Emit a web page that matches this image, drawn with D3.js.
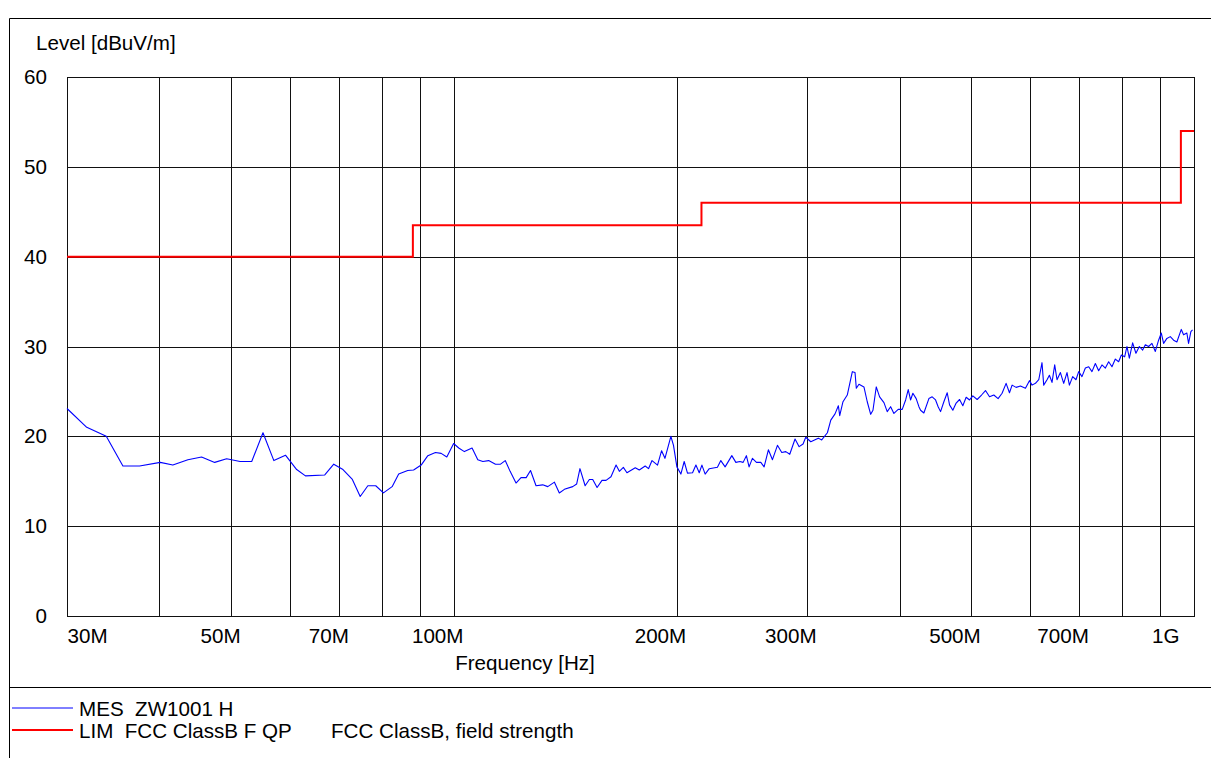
<!DOCTYPE html>
<html>
<head>
<meta charset="utf-8">
<script src="https://cdn.jsdelivr.net/npm/d3@7"></script>
<style>
  body { margin: 0; background: #fff; }
  svg { display: block; }
  text { white-space: pre; }
</style>
</head>
<body>
<div id="chart-area"></div>
<script>
// measured trace, frequency in MHz
var mesFreq = [
  30.0, 31.9, 33.9, 35.7, 37.6, 40.1, 41.7, 43.7, 45.6, 47.5, 49.3, 51.4, 53.3, 55.2, 57.1, 59.2, 61.3, 63.0, 66.9, 68.8, 70.8, 72.9,
  74.7, 76.5, 78.4, 80.3, 82.5, 84.2, 86.6, 88.2, 90.3, 92.2, 94.4, 96.1, 97.8, 99.9, 101.5, 103.3, 105.8, 107.7, 109.4, 111.4, 113.8, 115.6,
  117.3, 119.1, 121.3, 123.2, 125.2, 126.9, 129.1, 131.8, 133.9, 136.7, 138.8, 141.0, 144.7, 146.5, 148.0, 150.4, 152.4, 154.0, 156.1, 158.5,
  160.5, 163.0, 165.6, 167.3, 169.4, 171.3, 175.8, 178.0,
  181.3, 183.2, 185.2, 188.4, 190.8, 192.8, 196.4, 198.0, 200.1, 202.6, 204.7, 206.8, 210.1, 212.3, 214.5, 216.3, 218.5, 221.3, 227.0, 229.4,
  232.5, 237.4, 240.4, 243.4, 245.9, 248.4, 250.5, 253.1, 256.3, 259.8, 262.5, 266.0, 269.4, 273.6, 277.3, 280.8, 284.3, 289.0, 292.7, 296.3,
  298.8, 303.5, 310.7, 314.0, 319.6, 323.0, 327.3, 330.7, 332.1, 335.5, 340.0, 345.4, 348.3, 349.7, 352.6, 358.1, 361.8, 365.7, 368.3, 372.1,
  376.0, 381.1, 385.0, 389.1, 393.1, 398.4, 403.4, 407.7, 411.0, 414.0, 417.0, 421.3, 424.9,
  427.1, 431.5, 438.3, 442.8, 447.5, 451.1, 454.5, 459.2, 464.0, 467.4, 472.2, 477.1, 482.2, 487.1, 492.2, 497.4, 502.5, 509.3, 516.3, 522.7,
  529.3, 536.4, 543.6, 550.4, 557.3, 563.2, 567.8, 574.9, 582.8, 591.9, 599.3, 604.2, 610.6, 616.9, 623.2, 626.5, 633.0, 637.7, 642.9, 648.3,
  653.0, 659.9, 666.7, 673.6, 678.6, 685.6, 692.7, 698.5, 705.7, 713.2, 720.6, 728.0, 735.7, 743.3, 751.0, 759.0, 766.8, 774.7, 782.9, 791.0,
  797.7, 805.9, 811.7, 817.8, 826.2, 834.7, 843.6, 852.3, 859.5, 868.3, 877.3, 886.6, 895.7, 903.3, 909.8, 919.1, 928.9, 938.5, 948.1, 961.2,
  968.1, 978.0, 983.2, 990.3, 995.5
];
// measured level, dBuV/m
var mesLevel = [
  23.1, 21.0, 20.0, 16.7, 16.7, 17.1, 16.8, 17.4, 17.7, 17.1, 17.5, 17.2, 17.2, 20.4, 17.3, 17.9, 16.3, 15.6, 15.7, 16.9, 16.3, 15.2,
  13.3, 14.5, 14.5, 13.7, 14.4, 15.8, 16.2, 16.25, 16.8, 17.85, 18.2, 18.1, 17.7, 19.2, 18.7, 18.3, 18.7, 17.4, 17.2, 17.3, 16.9, 16.9,
  17.3, 16.1, 14.8, 15.4, 15.4, 16.2, 14.5, 14.6, 14.4, 14.9, 13.7, 14.1, 14.4, 14.7, 16.4, 14.5, 15.2, 15.2, 14.3, 15.1,
  15.1, 15.5, 16.8, 16.1, 16.55, 15.95, 16.5, 16.25,
  16.7, 16.4, 17.3, 16.8, 18.4, 17.55, 20.0, 19.0, 16.6, 15.8, 17.2, 15.9, 15.95, 16.8, 15.95, 16.8, 15.8, 16.4, 16.55, 17.3,
  16.6, 17.85, 17.1, 17.2, 17.1, 17.85, 16.6, 17.55, 17.1, 17.1, 16.6, 18.5, 17.4, 19.0, 18.2, 18.3, 18.0, 19.7, 18.85, 19.15,
  19.9, 19.4, 19.8, 19.6, 20.4, 21.8, 22.5, 23.4, 22.3, 23.85, 24.6, 27.2, 27.1, 25.35, 25.8, 25.5, 23.85, 22.45, 22.9, 25.5,
  24.4, 23.75, 22.75, 23.3, 22.55, 23.0, 23.0, 24.05, 25.2, 24.05, 24.8, 24.2, 23.3,
  22.9, 22.6, 24.2, 24.4, 24.05, 23.3, 22.75, 23.85, 24.85, 23.5, 22.9, 23.7, 24.1, 23.4, 24.35, 24.05, 24.5, 24.1, 24.6, 25.1,
  24.4, 24.6, 24.2, 24.8, 25.9, 24.85, 25.7, 25.45, 25.6, 25.35, 26.2, 25.7, 25.9, 26.3, 28.2, 25.7, 26.3, 26.8, 26.0, 27.95,
  26.3, 27.1, 25.9, 27.1, 25.7, 26.65, 26.3, 27.2, 26.65, 27.6, 27.75, 27.2, 28.1, 27.3, 27.95, 27.6, 28.3, 27.75, 28.6, 28.3,
  29.05, 28.85, 30.0, 28.7, 30.4, 29.25, 30.0, 29.6, 30.2, 30.0, 30.35, 29.45, 30.7, 31.5, 30.35, 30.9, 31.1, 30.7, 30.5, 31.9,
  31.3, 31.5, 30.35, 31.65, 31.85
];

// FCC class B limit, step values start at each frequency
var limFreq = [30, 88, 216, 960, 1000];
var limLevel = [40, 43.5, 46, 54, 54];

var levelTicks = [0, 10, 20, 30, 40, 50, 60];
var freqGrid = [40, 50, 60, 70, 80, 90, 100, 200, 300, 400, 500, 600, 700, 800, 900];
var freqTicks = [30, 50, 70, 100, 200, 300, 500, 700, 1000];
var freqTickLabels = ["30M", "50M", "70M", "100M", "200M", "300M", "500M", "700M", "1G"];

var legendNames = ["MES  ZW1001 H", "LIM  FCC ClassB F QP"];
var legendNotes = ["", "FCC ClassB, field strength"];
var legendColors = ["#0000ff", "#ff0000"];


SpectrumChart = function (_parentElement) {
  this.parentElement = _parentElement;
  this.initVis();
};

SpectrumChart.prototype.initVis = function () {
  var vis = this;

  vis.font = "'Liberation Sans', Arial, Helvetica, sans-serif";
  vis.fontSize = 20.6;
  vis.margin = { left: 67, top: 77 };
  vis.width = 1127;
  vis.height = 539;

  vis.root = d3.select(vis.parentElement)
    .append("svg")
    .attr("width", 1211)
    .attr("height", 758)
    .style("font-family", vis.font)
    .style("font-size", vis.fontSize + "px");

  // outer frame
  vis.root.append("path")
    .attr("d", "M9.5,758V18.5H1211M9.5,687.5H1211")
    .attr("fill", "none")
    .attr("stroke", "#000")
    .attr("stroke-width", 1);

  vis.root.append("text")
    .attr("x", 36)
    .attr("y", 50)
    .text("Level [dBuV/m]");

  vis.svg = vis.root.append("g")
    .attr("transform", "translate(" + vis.margin.left + "," + vis.margin.top + ")");

  vis.x = d3.scaleLog()
    .domain([30, 1000])
    .range([0, vis.width]);

  vis.y = d3.scaleLinear()
    .domain([0, 60])
    .range([vis.height, 0]);

  vis.wrangleData();
};

SpectrumChart.prototype.wrangleData = function () {
  var vis = this;
  vis.mes = mesFreq.map(function (f, i) { return { f: f, v: mesLevel[i] }; });
  vis.lim = limFreq.map(function (f, i) { return { f: f, v: limLevel[i] }; });
  vis.updateVis();
};

SpectrumChart.prototype.updateVis = function () {
  var vis = this;

  /* grid */
  var yGrid = vis.svg.append("g")
    .call(d3.axisLeft(vis.y).tickValues(levelTicks).tickSize(-vis.width).tickFormat(""));
  var xGrid = vis.svg.append("g")
    .attr("transform", "translate(0," + vis.height + ")")
    .call(d3.axisBottom(vis.x).tickValues(freqGrid).tickSize(-vis.height).tickFormat(""));
  [yGrid, xGrid].forEach(function (g) {
    g.select(".domain").remove();
    g.selectAll("line")
      .attr("stroke", "#111")
      .attr("shape-rendering", "crispEdges");
  });

  vis.svg.append("rect")
    .attr("width", vis.width)
    .attr("height", vis.height)
    .attr("fill", "none")
    .attr("stroke", "#111")
    .attr("shape-rendering", "crispEdges");

  /* tick labels */
  var yAxis = vis.svg.append("g")
    .call(d3.axisLeft(vis.y).tickValues(levelTicks).tickSize(0).tickPadding(20));
  var xAxis = vis.svg.append("g")
    .attr("transform", "translate(0," + vis.height + ")")
    .call(d3.axisBottom(vis.x).tickValues(freqTicks).tickSize(0).tickPadding(12)
      .tickFormat(function (d, i) { return freqTickLabels[i]; }));
  [yAxis, xAxis].forEach(function (g) {
    g.attr("font-family", vis.font).attr("font-size", vis.fontSize);
    g.select(".domain").remove();
    g.selectAll("text").attr("fill", "#000");
  });

  // labels sit just left of their grid line, kept inside the plot
  xAxis.selectAll(".tick text")
    .attr("text-anchor", "end")
    .attr("x", function (d) {
      var w = this.getComputedTextLength();
      var px = vis.x(d);
      return Math.min(Math.max(9, w - px), vis.width - 15 - px);
    });

  vis.svg.append("text")
    .attr("x", 525 - vis.margin.left)
    .attr("y", 670 - vis.margin.top)
    .attr("text-anchor", "middle")
    .text("Frequency [Hz]");

  /* lines */
  vis.line = d3.line()
    .x(function (d) { return vis.x(d.f); })
    .y(function (d) { return vis.y(d.v); });

  vis.svg.append("path")
    .datum(vis.mes)
    .attr("d", vis.line)
    .attr("fill", "none")
    .attr("stroke", legendColors[0])
    .attr("stroke-width", 1.1)
    .attr("stroke-linejoin", "round");

  vis.svg.append("path")
    .datum(vis.lim)
    .attr("d", vis.line.curve(d3.curveStepAfter))
    .attr("fill", "none")
    .attr("stroke", legendColors[1])
    .attr("stroke-width", 2);

  /* legend */
  var legend = vis.root.append("g")
    .selectAll("g")
    .data(legendNames)
    .enter()
    .append("g")
    .attr("transform", function (d, i) { return "translate(0," + (708 + i * 22) + ")"; });

  legend.append("line")
    .attr("x1", 12)
    .attr("x2", 73)
    .attr("stroke", function (d, i) { return legendColors[i]; })
    .attr("stroke-width", function (d, i) { return i === 0 ? 1 : 2; });

  legend.append("text")
    .attr("x", 79)
    .attr("y", 8)
    .text(function (d) { return d; });

  legend.append("text")
    .attr("x", 331)
    .attr("y", 8)
    .text(function (d, i) { return legendNotes[i]; });
};

new SpectrumChart("#chart-area");
</script>
</body>
</html>
